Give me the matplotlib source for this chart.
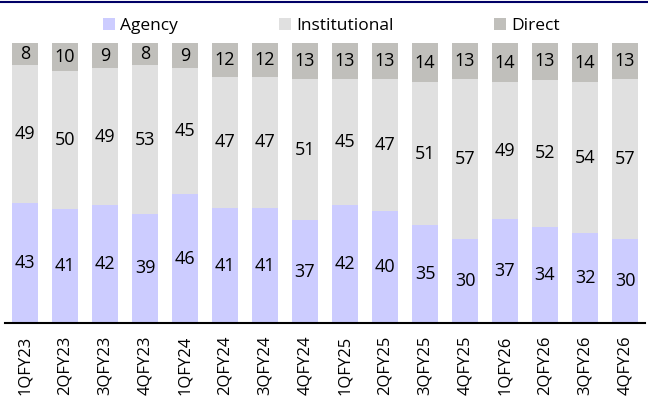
import matplotlib.pyplot as plt
import numpy as np

quarters = ["1QFY23", "2QFY23", "3QFY23", "4QFY23", "1QFY24", "2QFY24", "3QFY24", "4QFY24",
            "1QFY25", "2QFY25", "3QFY25", "4QFY25", "1QFY26", "2QFY26", "3QFY26", "4QFY26"]
agency = [43, 41, 42, 39, 46, 41, 41, 37, 42, 40, 35, 30, 37, 34, 32, 30]
institutional = [49, 50, 49, 53, 45, 47, 47, 51, 45, 47, 51, 57, 49, 52, 54, 57]
direct = [8, 10, 9, 8, 9, 12, 12, 13, 13, 13, 14, 13, 14, 13, 14, 13]

plt.rcParams['font.family'] = ['Open Sans', 'DejaVu Sans']

series = [("Agency", agency, "#ccccff"),
          ("Institutional", institutional, "#e0e0e0"),
          ("Direct", direct, "#c0bfbb")]

totals = np.array(agency) + np.array(institutional) + np.array(direct)
x = np.arange(len(quarters))

fig = plt.figure(figsize=(6.48, 4.07), dpi=100)
ax = fig.add_axes([5 / 648, 84 / 407, 640 / 648, 280 / 407])

bottom = np.zeros(len(quarters))
for name, vals, color in series:
    share = np.array(vals) / totals * 100
    ax.bar(x, share, bottom=bottom, width=0.67, color=color, label=name)
    for xi, b, s, v in zip(x, bottom, share, vals):
        ax.text(xi, b + s / 2, str(v), ha="center", va="center", fontsize=13, color="black")
    bottom += share

ax.set_xlim(-0.5, len(quarters) - 0.5)
ax.set_ylim(0, 100)
ax.set_yticks([])
ax.set_xticks(x)
ax.set_xticklabels(quarters, rotation=90, fontsize=12)
ax.tick_params(axis="x", length=0, pad=9)
for side in ["top", "left", "right"]:
    ax.spines[side].set_visible(False)
ax.spines["bottom"].set_linewidth(1.5)

ax.legend(loc="lower center", bbox_to_anchor=(0.51, 1.0), ncol=3, frameon=False,
          fontsize=12.5, handlelength=0.7, handleheight=0.7, handletextpad=0.3,
          columnspacing=5.8, borderaxespad=0.1)

fig.add_artist(plt.Line2D([0, 1], [1 - 1.5 / 407, 1 - 1.5 / 407], color="#000066", linewidth=1.5))

fig.savefig("out.png", dpi=100)
